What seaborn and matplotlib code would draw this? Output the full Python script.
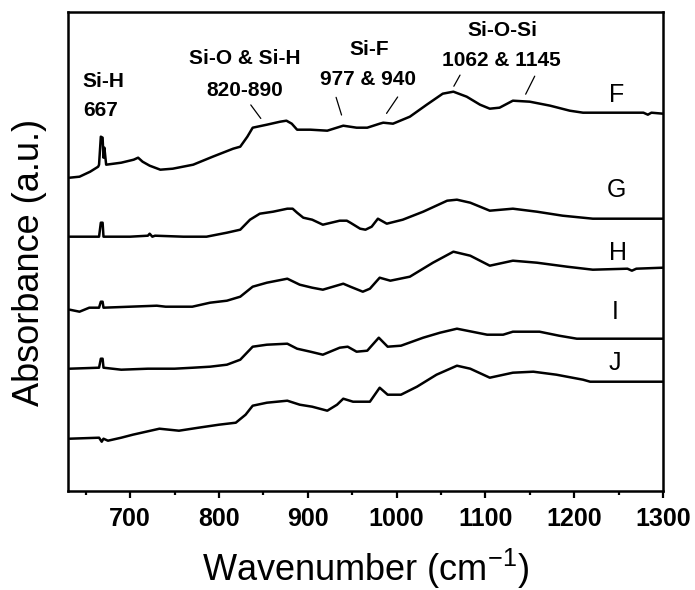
import pandas as pd
import matplotlib
matplotlib.use("Agg")
import matplotlib.pyplot as plt
from matplotlib.ticker import MultipleLocator
import seaborn as sns

# FTIR spectra (wavenumber in cm-1, absorbance in a.u.)
wn_F = [632, 643, 655, 664, 665, 667, 669, 670, 671, 673, 690, 704, 709, 714, 722, 734, 748,
        771, 793, 816, 824, 832, 838, 854, 869, 876, 882, 888, 903, 922, 940, 955, 967, 981,
        985, 996, 1015, 1034, 1052, 1064, 1079, 1094, 1105, 1116, 1131, 1150, 1173, 1195,
        1210, 1278, 1283, 1287, 1300]
ab_F = [313, 314, 319, 324, 326, 354, 353, 333, 343, 326, 328, 331, 333, 329, 325, 321, 322,
        326, 334, 342, 344, 354, 363, 366, 369, 370, 367, 361, 361, 360, 365, 363, 363, 367,
        368, 367, 374, 386, 397, 399, 394, 386, 382, 383, 390, 389, 385, 380,
        378, 378, 376, 378, 377]

wn_G = [632, 665, 667, 669, 670, 700, 720, 722, 725, 728, 760, 786, 809, 824, 835, 846, 861,
        877, 883, 888, 895, 905, 917, 936, 944, 948, 959, 965, 972, 979, 989, 1007, 1030,
        1057, 1068, 1083, 1105, 1131, 1158, 1187, 1221, 1300]
ab_G = [254, 254, 268, 268, 254, 254, 255, 257, 254, 255, 254, 254, 258, 261, 271, 277, 279,
        282, 282, 278, 273, 271, 266, 270, 270, 268, 262, 261, 264, 272, 267, 271, 279,
        290, 291, 288, 280, 282, 279, 275, 272, 272]

wn_H = [632, 643, 654, 665, 667, 669, 670, 700, 730, 740, 770, 790, 809, 824, 838, 854, 877,
        891, 905, 917, 940, 948, 962, 970, 981, 993, 1015, 1041, 1064, 1083, 1105, 1131,
        1158, 1192, 1221, 1260, 1265, 1270, 1300]
ab_H = [181, 179, 183, 183, 189, 189, 183, 184, 185, 184, 184, 188, 190, 194, 204, 208, 212,
        206, 203, 201, 207, 204, 199, 202, 213, 210, 214, 228, 239, 235, 225, 230,
        228, 224, 221, 222, 220, 222, 223]

wn_I = [632, 665, 667, 669, 670, 690, 720, 750, 771, 790, 809, 824, 838, 854, 877, 888, 903,
        917, 936, 945, 955, 967, 980, 990, 1005, 1030, 1049, 1068, 1085, 1102, 1120, 1131,
        1161, 1183, 1203, 1300]
ab_I = [122, 123, 132, 132, 123, 121, 122, 122, 123, 124, 126, 131, 144, 146, 147, 142, 139,
        136, 143, 144, 139, 140, 153, 144, 145, 153, 158, 162, 159, 156, 156, 159,
        159, 155, 152, 152]

wn_J = [632, 665, 668, 670, 675, 690, 703, 718, 733, 755, 777, 800, 819, 830, 838, 854, 877,
        891, 905, 922, 933, 940, 951, 970, 981, 990, 1005, 1023, 1045, 1068, 1083, 1105,
        1131, 1154, 1180, 1210, 1218, 1300]
ab_J = [52, 53, 49, 52, 50, 53, 56, 59, 62, 60, 63, 66, 68, 76, 85, 88, 90,
        86, 84, 80, 86, 92, 89, 89, 103, 96, 96, 104, 116, 125, 122, 113,
        118, 119, 116, 111, 109, 109]

samples = ["F", "G", "H", "I", "J"]
label_x = [1248, 1248, 1249, 1246, 1246]
label_y = [396, 301, 238, 179, 128]

spectra = pd.concat([
    pd.DataFrame({"wavenumber": w, "absorbance": a, "sample": s})
    for w, a, s in [(wn_F, ab_F, "F"), (wn_G, ab_G, "G"), (wn_H, ab_H, "H"),
                    (wn_I, ab_I, "I"), (wn_J, ab_J, "J")]
], ignore_index=True)

sns.set_style("ticks")
plt.rcParams['font.family'] = ['Liberation Sans', 'DejaVu Sans']
plt.rcParams['mathtext.fontset'] = 'custom'
plt.rcParams['mathtext.rm'] = 'Liberation Sans'
plt.rcParams['mathtext.default'] = 'regular'
# seaborn greys -> plain black like the original
for key in ['text.color', 'axes.labelcolor', 'xtick.color', 'ytick.color', 'axes.edgecolor']:
    plt.rcParams[key] = 'black'

fig = plt.figure(figsize=(6.95, 5.9), dpi=100)
ax = fig.add_axes([0.0978, 0.1683, 0.8561, 0.8119])

sns.lineplot(data=spectra, x="wavenumber", y="absorbance", units="sample",
             estimator=None, color="black", linewidth=1.8, sort=False, ax=ax)

for s, x, y in zip(samples, label_x, label_y):
    ax.text(x, y, s, fontsize=18, ha="center", va="center")

# peak assignments
ann = dict(fontsize=15, fontweight="bold", ha="center", va="center")
ax.text(670, 409, "Si-H", **ann)
ax.text(667, 380, "667", **ann)
ax.text(829, 432, "Si-O & Si-H", **ann)
ax.text(829, 400, "820-890", **ann)
ax.text(969, 441, "Si-F", **ann)
ax.text(968, 411, "977 & 940", **ann)
ax.text(1119, 460, "Si-O-Si", **ann)
ax.text(1118, 430, "1062 & 1145", **ann)

lead = dict(arrowstyle="-", color="black", lw=0.9)
ax.annotate("", xy=(849, 370), xytext=(834, 388), arrowprops=lead)
ax.annotate("", xy=(939, 373), xytext=(931, 396), arrowprops=lead)
ax.annotate("", xy=(987, 375), xytext=(1003, 396), arrowprops=lead)
ax.annotate("", xy=(1063, 402), xytext=(1073, 418), arrowprops=lead)
ax.annotate("", xy=(1144, 394), xytext=(1157, 417), arrowprops=lead)

ax.set_xlim(630, 1300)
ax.set_ylim(0, 479)
ax.xaxis.set_major_locator(MultipleLocator(100))
ax.xaxis.set_minor_locator(MultipleLocator(50))
ax.set_yticks([])
ax.tick_params(axis="x", which="major", direction="out", length=5, width=1.6, pad=7,
               labelsize=18, colors="black")
ax.tick_params(axis="x", which="minor", direction="out", length=3, width=1.6, colors="black")
for lbl in ax.get_xticklabels():
    lbl.set_fontweight("bold")
for sp in ax.spines.values():
    sp.set_visible(True)
    sp.set_linewidth(1.8)
    sp.set_color("black")

ax.set_xlabel("Wavenumber (cm$^{-1}$)", fontsize=26, color="black")
ax.set_ylabel("Absorbance (a.u.)", fontsize=26, color="black")
ax.xaxis.set_label_coords(0.5, -0.118)
ax.yaxis.set_label_coords(-0.035, 0.476)

fig.savefig("out.png", dpi=100)
